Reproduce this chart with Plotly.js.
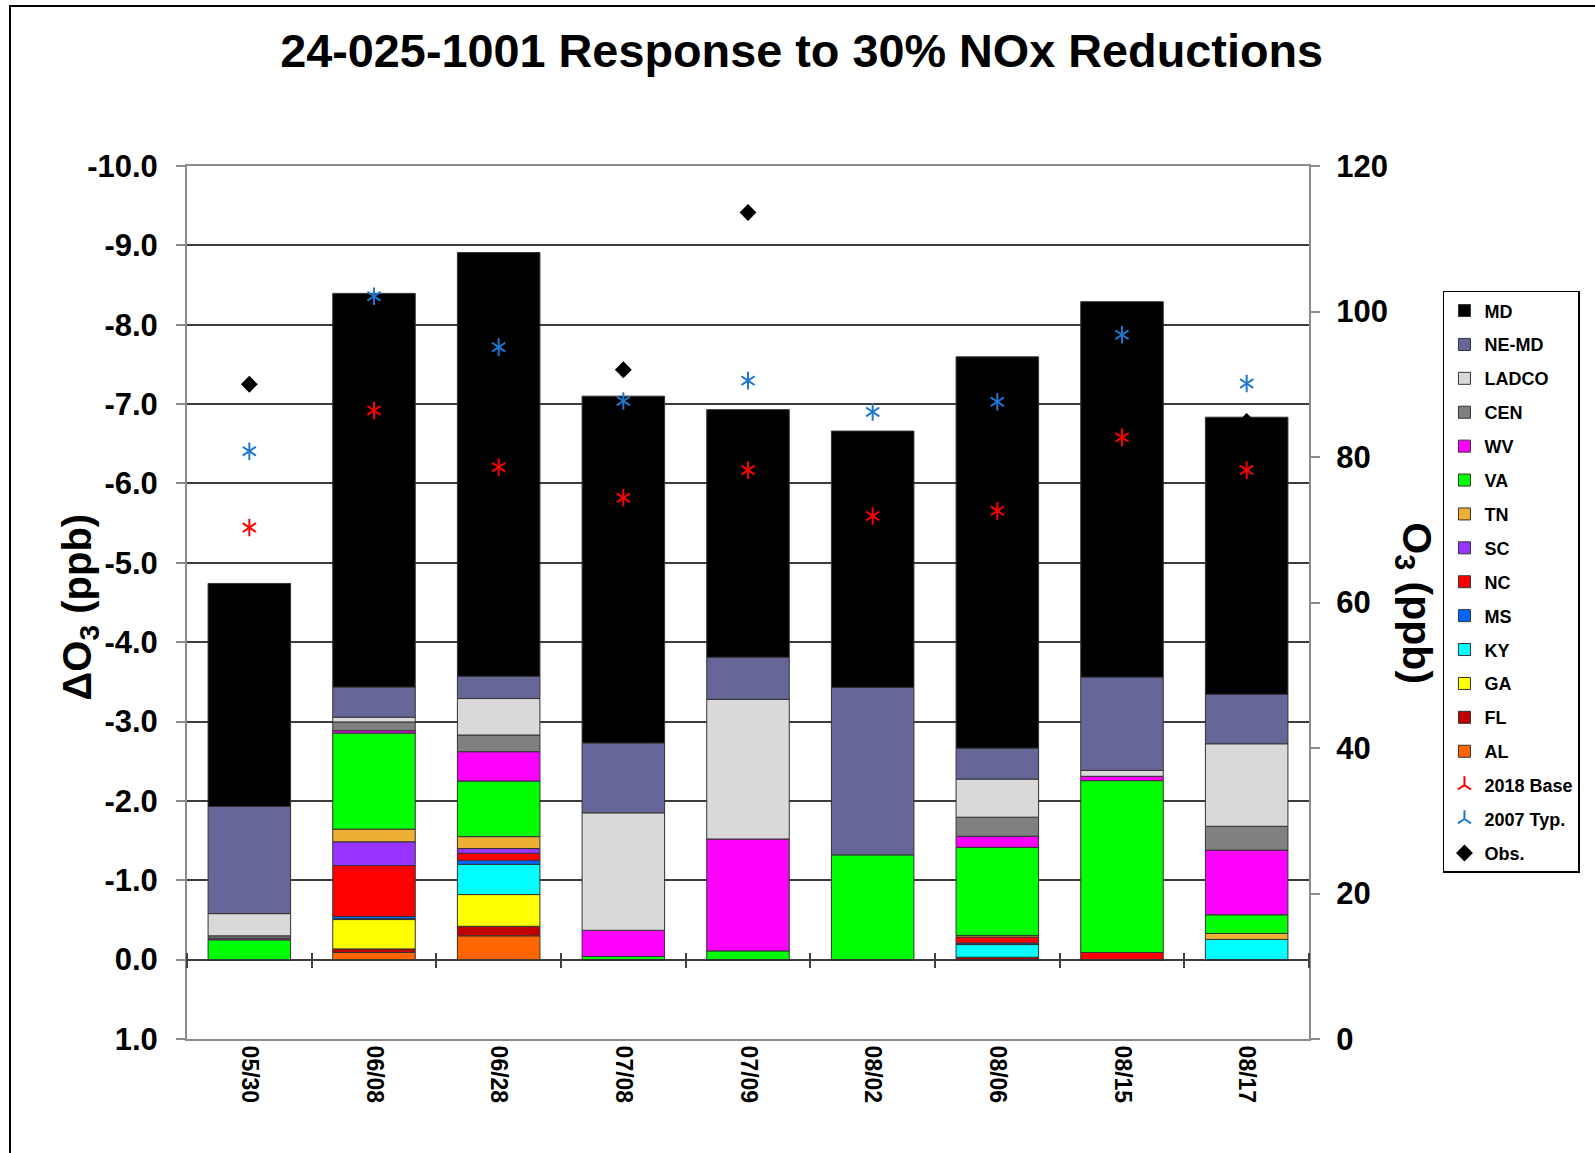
<!DOCTYPE html>
<html><head><meta charset="utf-8">
<script src="https://cdn.plot.ly/plotly-3.0.1.min.js"></script>
<style>
html,body{margin:0;padding:0;background:#fff;}
#chart{width:1595px;height:1153px;}
#frame{position:absolute;left:9px;top:5px;width:1600px;height:1160px;border:2px solid #000;pointer-events:none;}
</style>
</head><body>
<div id="chart"></div><div id="frame"></div>
<script>
// ---- data ----
const dates = ['05/30','06/08','06/28','07/08','07/09','08/02','08/06','08/15','08/17'];

// contributions to ΔO3 (ppb), legend order (top of stack first)
const MD    = [-2.81, -4.96, -5.34, -4.37, -3.12, -3.23, -4.93, -4.73, -3.49];
const NE_MD = [-1.35, -0.38, -0.28, -0.88, -0.53, -2.11, -0.39, -1.175, -0.625];
const LADCO = [-0.28, -0.06, -0.46, -1.48, -1.76, 0, -0.48, -0.075, -1.04];
const CEN   = [-0.03, -0.11, -0.21, 0, 0, 0, -0.24, 0, -0.30];
const WV    = [-0.02, -0.03, -0.37, -0.33, -1.41, 0, -0.14, -0.055, -0.815];
const VA    = [-0.25, -1.21, -0.70, -0.04, -0.11, -1.32, -1.11, -2.165, -0.235];
const TN    = [0, -0.16, -0.15, 0, 0, 0, -0.02, 0, -0.075];
const SC    = [0, -0.30, -0.06, 0, 0, 0, 0, 0, 0];
const NC    = [0, -0.64, -0.09, 0, 0, 0, -0.075, -0.09, 0];
const MS    = [0, -0.03, -0.05, 0, 0, 0, -0.02, 0, 0];
const KY    = [0, -0.01, -0.38, 0, 0, 0, -0.16, 0, -0.255];
const GA    = [0, -0.37, -0.40, 0, 0, 0, 0, 0, 0];
const FL    = [0, -0.045, -0.12, 0, 0, 0, -0.03, 0, 0];
const AL    = [0, -0.09, -0.30, 0, 0, 0, 0, 0, 0];

// O3 (ppb), right axis
const base2018 = [70.3, 86.4, 78.6, 74.4, 78.2, 71.9, 72.6, 82.7, 78.2];
const typ2007  = [80.8, 102.1, 95.1, 87.7, 90.5, 86.2, 87.6, 96.8, 90.1];
const obs      = [90.0, null, null, 92.0, 113.6, null, null, null, 84.9];

const regionNames  = ['MD','NE-MD','LADCO','CEN','WV','VA','TN','SC','NC','MS','KY','GA','FL','AL'];
const regionValues = [MD, NE_MD, LADCO, CEN, WV, VA, TN, SC, NC, MS, KY, GA, FL, AL];
const regionColors = ['#000000','#666699','#D9D9D9','#808080','#FF00FF','#00FF00','#EEAF35','#9933FF','#FF0000','#0066FF','#00FFFF','#FFFF00','#C00000','#FF6600'];

const yTickVals  = [1, 0, -1, -2, -3, -4, -5, -6, -7, -8, -9, -10];
const yTickText  = ['1.0','0.0','-1.0','-2.0','-3.0','-4.0','-5.0','-6.0','-7.0','-8.0','-9.0','-10.0'];
const y2TickVals = [0, 20, 40, 60, 80, 100, 120];

// ---- chart ----
const FONT = 'Liberation Sans, Arial, sans-serif';
const traces = [];
for (let i = regionNames.length - 1; i >= 0; i--) {
  traces.push({
    type: 'bar', name: regionNames[i], x: dates, y: regionValues[i],
    marker: {color: regionColors[i], line: {color: '#333333', width: 1}},
    legendrank: i + 1, legendgroup: regionNames[i], hoverinfo: 'name+y'
  });
}
function starTraces(name, vals, color, rank) {
  return [
    {type:'scatter', mode:'markers', name:name, x:dates, y:vals, yaxis:'y2', legendrank:rank, legendgroup:name,
     marker:{symbol:'y-up-open', size:11, line:{color:color, width:2}, color:color}},
    {type:'scatter', mode:'markers', name:name, x:dates, y:vals, yaxis:'y2', legendgroup:name, showlegend:false,
     marker:{symbol:'y-down-open', size:11, line:{color:color, width:2}, color:color}}
  ];
}
traces.push(...starTraces('2018 Base', base2018, '#FF0000', 15));
traces.push(...starTraces('2007 Typ.', typ2007, '#1E78D2', 16));
traces.push({type:'scatter', mode:'markers', name:'Obs.', x:dates, y:obs, yaxis:'y2', legendrank:17, legendgroup:'Obs.',
  marker:{symbol:'diamond', size:13, color:'#000000'}});
// helper trace so the zero-line tick axis is drawn
traces.push({type:'scatter', mode:'markers', x:[0], y:[null], xaxis:'x2', yaxis:'y', showlegend:false, hoverinfo:'skip'});

const tickFont = {family: FONT, size: 31, color: '#000', weight: 700};
const layout = {
  width: 1595, height: 1153,
  margin: {l: 187, r: 286, t: 166, b: 114},
  paper_bgcolor: '#ffffff', plot_bgcolor: '#ffffff',
  barmode: 'relative', bargap: 0.338,
  title: {text: '24-025-1001 Response to 30% NOx Reductions',
          font: {family: FONT, size: 46.8, color: '#000', weight: 700},
          xref: 'container', yref: 'container', x: 0.5026, xanchor: 'center', y: 1 - 51/1153, yanchor: 'middle'},
  xaxis: {type: 'category', categoryorder: 'array', categoryarray: dates, range: [-0.5, 8.5],
          tickangle: 90, tickfont: {family: FONT, size: 23, color: '#000', weight: 700},
          showline: true, mirror: true, linecolor: '#8c8c8c', linewidth: 2, ticks: '', showgrid: false, zeroline: false},
  xaxis2: {type: 'linear', overlaying: 'x', anchor: 'free', position: 1/11 + 7.5/873, range: [-0.5, 8.5],
           tickmode: 'linear', tick0: 0.5, dtick: 1, ticks: 'outside', ticklen: 15, tickwidth: 1.5, tickcolor: '#404040',
           showticklabels: false, showline: false, showgrid: false, zeroline: false},
  yaxis: {range: [1, -10], tickmode: 'array', tickvals: yTickVals, ticktext: yTickText, tickfont: tickFont,
          showline: true, linecolor: '#8c8c8c', linewidth: 2, ticks: 'outside', ticklen: 9, tickwidth: 1.5, tickcolor: '#8c8c8c',
          ticklabelstandoff: 12,
          showgrid: true, gridcolor: '#3c3c3c', gridwidth: 1.5, zeroline: false},
  yaxis2: {overlaying: 'y', side: 'right', range: [0, 120], tickmode: 'array', tickvals: y2TickVals, tickfont: tickFont,
           showline: true, linecolor: '#8c8c8c', linewidth: 2, ticks: 'outside', ticklen: 9, tickwidth: 1.5, tickcolor: '#8c8c8c',
           ticklabelstandoff: 10,
           showgrid: false, zeroline: false},
  legend: {x: 1.1194, y: 0.857, xanchor: 'left', yanchor: 'top', bgcolor: '#ffffff', bordercolor: '#000', borderwidth: 1.5,
           font: {family: FONT, size: 18, color: '#000', weight: 700}, traceorder: 'grouped', tracegroupgap: 7.5, itemwidth: 30},
  annotations: [
    {text: 'ΔO<sub>3</sub> (ppb)', xref: 'paper', yref: 'paper', x: -0.0958, y: 0.495, xanchor: 'center', yanchor: 'middle',
     textangle: -90, showarrow: false, font: {family: FONT, size: 40, color: '#000', weight: 700}},
    {text: 'O<sub>3</sub> (ppb)', xref: 'paper', yref: 'paper', x: 1.0936, y: 0.499, xanchor: 'center', yanchor: 'middle',
     textangle: 90, showarrow: false, font: {family: FONT, size: 41, color: '#000', weight: 700}}
  ],
  showlegend: true
};
Plotly.newPlot('chart', traces, layout, {displayModeBar: false, responsive: false});
</script>
</body></html>
